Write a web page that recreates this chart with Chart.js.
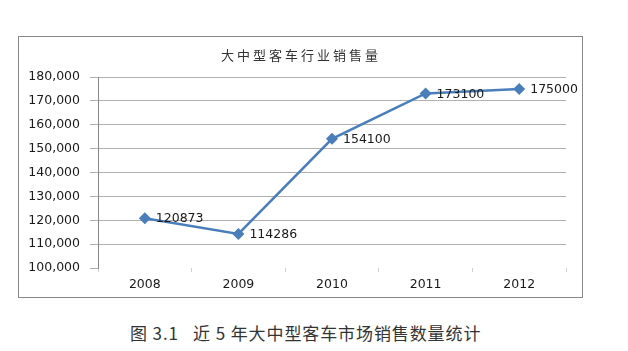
<!DOCTYPE html>
<html>
<head>
<meta charset="utf-8">
<script src="https://cdn.jsdelivr.net/npm/chart.js@4"></script>
<style>
  body { margin: 0; background: #fff; width: 628px; height: 351px; overflow: hidden; position: relative; }
  #box { position: absolute; left: 18px; top: 36px; width: 563px; height: 260px; border: 1px solid #878787; }
  #caption { position: absolute; left: 130px; top: 321px; font-family: "Noto Sans CJK SC", sans-serif; font-size: 17px; letter-spacing: 0.9px; color: #333; white-space: pre; line-height: 24px; }
</style>
</head>
<body>
<div id="box"><canvas id="chart" width="563" height="260"></canvas></div>
<div id="caption">图 3.1   近 5 年大中型客车市场销售数量统计</div>
<script>
const years = ['2008', '2009', '2010', '2011', '2012'];
const sales = [120873, 114286, 154100, 173100, 175000];
const yTicks = [100000, 110000, 120000, 130000, 140000, 150000, 160000, 170000, 180000];
const chartTitle = '大中型客车行业销售量';

const numFont = { family: 'DejaVu Sans', size: 12.5 };

// titre dessiné à la main (espacement des lettres)
const titlePlugin = {
    id: 'titreEspace',
    afterDraw(chart) {
        const ctx = chart.ctx;
        ctx.save();
        ctx.font = '13px "Noto Sans CJK SC"';
        ctx.letterSpacing = '3px';
        ctx.fillStyle = '#333';
        ctx.textAlign = 'center';
        ctx.textBaseline = 'middle';
        ctx.fillText(chartTitle, 282, 18);
        ctx.restore();
    }
};

// étiquettes de valeurs à droite des points
const labelsPlugin = {
    id: 'valeurs',
    afterDatasetsDraw(chart) {
        const ctx = chart.ctx;
        const meta = chart.getDatasetMeta(0);
        ctx.save();
        ctx.font = '12.5px "DejaVu Sans"';
        ctx.fillStyle = '#1a1a1a';
        ctx.textAlign = 'left';
        ctx.textBaseline = 'middle';
        meta.data.forEach(function (pt, i) {
            ctx.fillText(String(sales[i]), pt.x + 11, pt.y + 1);
        });
        ctx.restore();
    }
};

const ctx = document.getElementById('chart').getContext('2d');
const chart = new Chart(ctx, {
    type: 'line',
    data: {
        labels: years,
        datasets: [{
            data: sales,
            borderColor: '#4a7ebb',
            backgroundColor: '#4a7ebb',
            borderWidth: 2.5,
            tension: 0,
            pointStyle: 'rectRot',
            pointRadius: 6,
            pointBorderWidth: 0
        }]
    },
    options: {
        responsive: false,
        animation: false,
        layout: { padding: { top: 40, right: 16, bottom: 0, left: 0 } },
        plugins: {
            legend: { display: false },
            tooltip: { enabled: false },
            title: { display: false }
        },
        scales: {
            x: {
                offset: true,
                border: { display: false },
                grid: {
                    offset: true,
                    drawOnChartArea: false,
                    drawTicks: true,
                    tickLength: 4,
                    tickColor: '#cfcfcf'
                },
                ticks: { font: numFont, color: '#1a1a1a', padding: 5, maxRotation: 0 }
            },
            y: {
                min: 100000,
                max: 180000,
                afterBuildTicks(scale) {
                    scale.ticks = yTicks.map(v => ({ value: v }));
                },
                afterFit(scale) { scale.width = 79; },
                border: { display: true, color: '#868686', width: 1 },
                grid: {
                    color: c => (c.tick && c.tick.value === 100000) ? 'rgba(0,0,0,0)' : '#b0b0b0',
                    tickColor: '#b0b0b0',
                    tickLength: 8,
                    lineWidth: 1
                },
                ticks: {
                    font: numFont,
                    color: '#1a1a1a',
                    padding: 10,
                    callback: v => v.toLocaleString('en-US')
                }
            }
        }
    },
    plugins: [titlePlugin, labelsPlugin]
});
</script>
</body>
</html>
